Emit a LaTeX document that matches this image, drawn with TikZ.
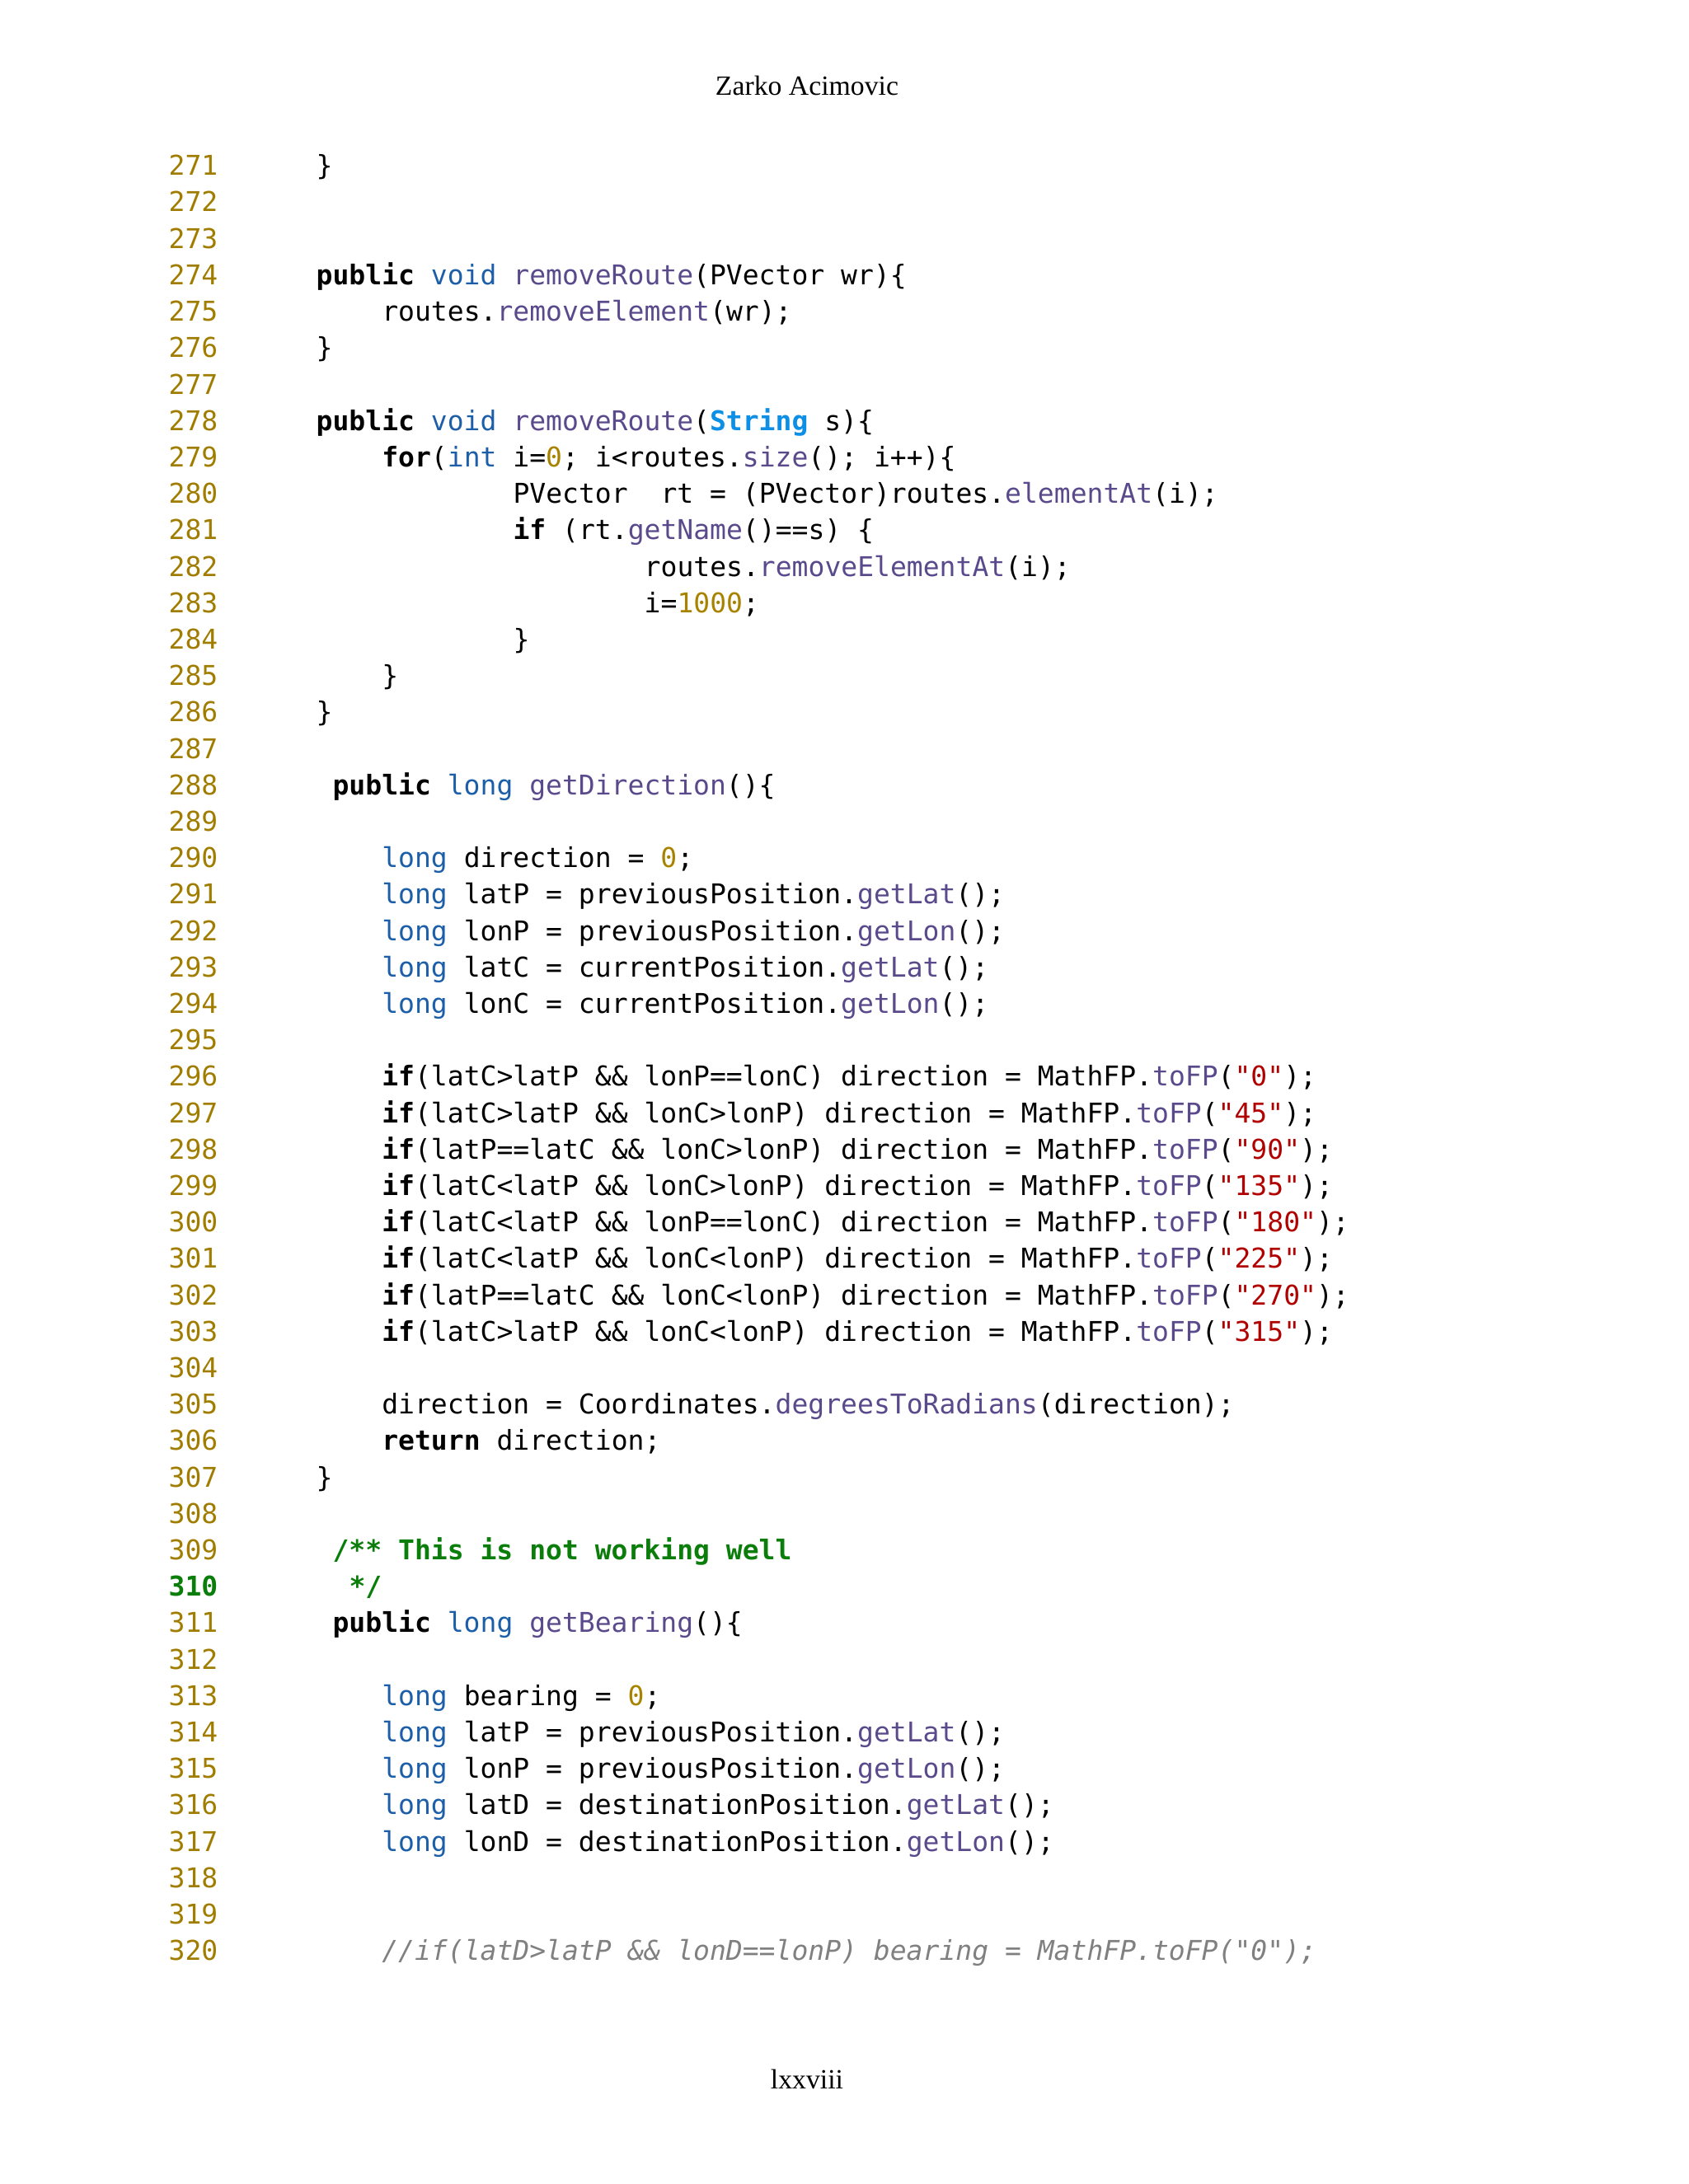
\documentclass[tikz,border=0pt]{standalone}
\usepackage{fontspec}
\setmainfont{Liberation Serif}
\setmonofont{DejaVu Sans Mono}
\definecolor{lnum}{HTML}{A07D00}
\definecolor{kty}{HTML}{1C5FA8}
\definecolor{kfn}{HTML}{5A4A8C}
\definecolor{knm}{HTML}{A88300}
\definecolor{kst}{HTML}{B00000}
\definecolor{kstr}{HTML}{0D8FE6}
\definecolor{kcm}{HTML}{0A7D0A}
\definecolor{kgr}{HTML}{808080}
\newcommand{\kw}[1]{\textbf{#1}}
\newcommand{\ty}[1]{\textcolor{kty}{#1}}
\newcommand{\fn}[1]{\textcolor{kfn}{#1}}
\newcommand{\nm}[1]{\textcolor{knm}{#1}}
\newcommand{\st}[1]{\textcolor{kst}{#1}}
\tikzset{code/.style={anchor=base west,inner sep=0pt,font=\ttfamily\fontsize{9.4pt}{11pt}\selectfont},
lnstyle/.style={code,text=lnum},
pagetext/.style={inner sep=0pt,font=\fontsize{9.6pt}{11pt}\selectfont}}
\newcommand{\numline}[1]{\node[lnstyle] (n#1) at (2.04,{-2.128-(#1-271)*0.442}) {#1};}
\newcommand{\codeline}[3]{\node[code] (c#1) at ({3.83+#2*0.199},{-2.128-(#1-271)*0.442}) {#3};}
\begin{document}
\begin{tikzpicture}
\useasboundingbox (0,0) rectangle (20.48,-26.5);
\node[pagetext] (head) at (9.79,-1.04) {Zarko Acimovic};
\node[pagetext] (foot) at (9.79,-25.23) {lxxviii};
\foreach \n in {271,...,309,311,312,...,320} {\numline{\n}}
\node[code,text=kcm,font=\ttfamily\bfseries\fontsize{9.4pt}{11pt}\selectfont] (n310) at (2.04,{-2.128-39*0.442}) {310};
\codeline{271}{0}{\}}
\codeline{274}{0}{\kw{public} \ty{void} \fn{removeRoute}(PVector wr)\{}
\codeline{275}{4}{routes.\fn{removeElement}(wr);}
\codeline{276}{0}{\}}
\codeline{278}{0}{\kw{public} \ty{void} \fn{removeRoute}(\textcolor{kstr}{\textbf{String}} s)\{}
\codeline{279}{4}{\kw{for}(\ty{int} i=\nm{0}; i<routes.\fn{size}(); i++)\{}
\codeline{280}{12}{PVector\ \ rt = (PVector)routes.\fn{elementAt}(i);}
\codeline{281}{12}{\kw{if} (rt.\fn{getName}()==s) \{}
\codeline{282}{20}{routes.\fn{removeElementAt}(i);}
\codeline{283}{20}{i=\nm{1000};}
\codeline{284}{12}{\}}
\codeline{285}{4}{\}}
\codeline{286}{0}{\}}
\codeline{288}{1}{\kw{public} \ty{long} \fn{getDirection}()\{}
\codeline{290}{4}{\ty{long} direction = \nm{0};}
\codeline{291}{4}{\ty{long} latP = previousPosition.\fn{getLat}();}
\codeline{292}{4}{\ty{long} lonP = previousPosition.\fn{getLon}();}
\codeline{293}{4}{\ty{long} latC = currentPosition.\fn{getLat}();}
\codeline{294}{4}{\ty{long} lonC = currentPosition.\fn{getLon}();}
\codeline{296}{4}{\kw{if}(latC>latP \&\& lonP==lonC) direction = MathFP.\fn{toFP}(\st{"0"});}
\codeline{297}{4}{\kw{if}(latC>latP \&\& lonC>lonP) direction = MathFP.\fn{toFP}(\st{"45"});}
\codeline{298}{4}{\kw{if}(latP==latC \&\& lonC>lonP) direction = MathFP.\fn{toFP}(\st{"90"});}
\codeline{299}{4}{\kw{if}(latC<latP \&\& lonC>lonP) direction = MathFP.\fn{toFP}(\st{"135"});}
\codeline{300}{4}{\kw{if}(latC<latP \&\& lonP==lonC) direction = MathFP.\fn{toFP}(\st{"180"});}
\codeline{301}{4}{\kw{if}(latC<latP \&\& lonC<lonP) direction = MathFP.\fn{toFP}(\st{"225"});}
\codeline{302}{4}{\kw{if}(latP==latC \&\& lonC<lonP) direction = MathFP.\fn{toFP}(\st{"270"});}
\codeline{303}{4}{\kw{if}(latC>latP \&\& lonC<lonP) direction = MathFP.\fn{toFP}(\st{"315"});}
\codeline{305}{4}{direction = Coordinates.\fn{degreesToRadians}(direction);}
\codeline{306}{4}{\kw{return} direction;}
\codeline{307}{0}{\}}
\codeline{309}{1}{\textcolor{kcm}{\textbf{/** This is not working well}}}
\codeline{310}{2}{\textcolor{kcm}{\textbf{*/}}}
\codeline{311}{1}{\kw{public} \ty{long} \fn{getBearing}()\{}
\codeline{313}{4}{\ty{long} bearing = \nm{0};}
\codeline{314}{4}{\ty{long} latP = previousPosition.\fn{getLat}();}
\codeline{315}{4}{\ty{long} lonP = previousPosition.\fn{getLon}();}
\codeline{316}{4}{\ty{long} latD = destinationPosition.\fn{getLat}();}
\codeline{317}{4}{\ty{long} lonD = destinationPosition.\fn{getLon}();}
\codeline{320}{4}{\textcolor{kgr}{\itshape //if(latD>latP \&\& lonD==lonP) bearing = MathFP.toFP("0");}}
\end{tikzpicture}
\end{document}
